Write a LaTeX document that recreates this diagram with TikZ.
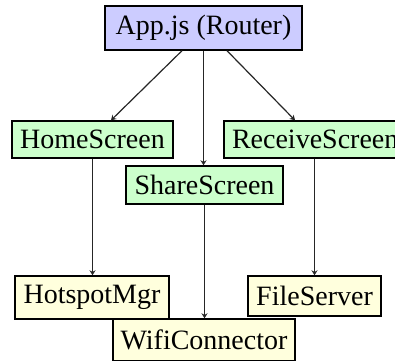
\documentclass[tikz,border=0pt]{standalone}
\usepackage{fontspec}
\setmainfont{Liberation Serif}
\usetikzlibrary{arrows.meta}
\definecolor{lav}{HTML}{CCCCFF}
\definecolor{grn}{HTML}{CCFFCC}
\definecolor{ylw}{HTML}{FFFFDD}
\begin{document}
\begin{tikzpicture}[x=1pt,y=-1pt,
  box/.style={draw=black,line width=1.4pt,inner sep=0pt,font=\fontsize{28}{30}\selectfont},
  arr/.style={draw=black!85,line width=1.2pt,-{Stealth[length=5pt,width=6pt]}}]
\clip (0,0) rectangle (395,360);
\useasboundingbox (0,0) rectangle (395,360);
\node[box,fill=lav,minimum width=197pt,minimum height=44pt] (app) at (203.5,28) {App.js (Router)};
\node[box,fill=grn,minimum width=161pt,minimum height=37pt] (home) at (92.5,139.5) {HomeScreen};
\node[box,fill=grn,minimum width=183pt,minimum height=37pt,text width=169pt,align=left] (recv) at (315.5,139.5) {\hspace*{1pt}ReceiveScreen};
\node[box,fill=grn,minimum width=157pt,minimum height=38pt] (share) at (204.5,185) {ShareScreen};
\node[box,fill=ylw,minimum width=154pt,minimum height=43pt] (hot) at (92,297.5) {HotspotMgr};
\node[box,fill=ylw,minimum width=133pt,minimum height=40pt] (file) at (314.5,296) {FileServer};
\node[box,fill=ylw,minimum width=182pt,minimum height=42pt] (wifi) at (204,340) {WifiConnector};
\draw[arr] ([xshift=-21.5pt]app.south) -- ([xshift=18.5pt]home.north);
\draw[arr] (app.south) -- (app.south |- share.north);
\draw[arr] ([xshift=23.5pt]app.south) -- ([xshift=-20.5pt]recv.north);
\draw[arr] (home.south) -- (home.south |- hot.north);
\draw[arr] (share.south) -- (share.south |- wifi.north);
\draw[arr] (file.north |- recv.south) -- (file.north);
\end{tikzpicture}
\end{document}
